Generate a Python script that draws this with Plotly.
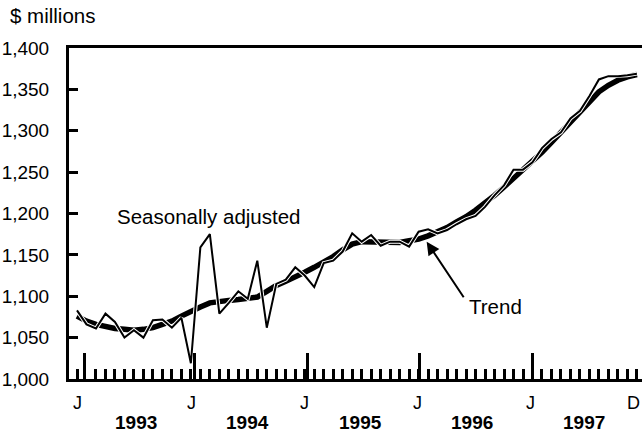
import plotly.graph_objects as go

# month index 0 = Jan 1993 ... 59 = Dec 1997
months = list(range(60))

seasonally_adjusted = [1083, 1066, 1061, 1079, 1069, 1050, 1059, 1050, 1071, 1072,
                       1062, 1074, 1019, 1159, 1175, 1079, 1092, 1106, 1097, 1143,
                       1062, 1115, 1120, 1135, 1125, 1111, 1140, 1143, 1154, 1176,
                       1166, 1174, 1161, 1166, 1166, 1160, 1178, 1181, 1176, 1180,
                       1187, 1193, 1197, 1208, 1222, 1234, 1253, 1253, 1262, 1279,
                       1290, 1298, 1315, 1324, 1342, 1362, 1366, 1366, 1367, 1369]

trend = [1076, 1070, 1066, 1063, 1061, 1060, 1059, 1060, 1062, 1066,
         1070, 1076, 1082, 1087, 1092, 1094, 1095, 1096, 1097, 1099,
         1106, 1113, 1118, 1123, 1129, 1135, 1141, 1148, 1156, 1163,
         1166, 1166, 1165, 1165, 1165, 1167, 1169, 1173, 1178, 1183,
         1190, 1196, 1204, 1212, 1222, 1232, 1242, 1252, 1263, 1274,
         1286, 1298, 1311, 1324, 1336, 1347, 1355, 1361, 1365, 1368]

y_ticks = [1000, 1050, 1100, 1150, 1200, 1250, 1300, 1350, 1400]
y_tick_text = ["1,000", "1,050", "1,100", "1,150", "1,200", "1,250", "1,300", "1,350", "1,400"]
right_ticks = [1050, 1100, 1150, 1200, 1250, 1300, 1350]

year_labels = ["1993", "1994", "1995", "1996", "1997"]
year_pos = [6.2, 18.0, 29.9, 41.6, 53.4]
month_labels = ["J", "J", "J", "J", "J"]
month_label_pos = [0.1, 12.1, 24.0, 35.9, 47.8]
end_label = "D"
major_ticks = [0.74, 12.43, 24.24, 36.04, 47.95]
minor_ticks = [0, 2, 3, 4, 5, 6, 7, 8, 9, 10, 11, 12] + list(range(13, 60))

FONT = "Liberation Sans, Arial, sans-serif"

fig = go.Figure()
fig.add_trace(go.Scatter(x=months, y=trend, mode="lines",
                         line=dict(color="black", width=5.5), hoverinfo="skip"))
fig.add_trace(go.Scatter(x=months, y=seasonally_adjusted, mode="lines",
                         line=dict(color="white", width=4), hoverinfo="skip"))
fig.add_trace(go.Scatter(x=months, y=seasonally_adjusted, mode="lines",
                         line=dict(color="black", width=2), hoverinfo="skip"))

annotations = []
for t, p in zip(year_labels, year_pos):
    annotations.append(dict(x=p, y=-0.13, xref="x", yref="paper", text=t,
                            showarrow=False, xanchor="center", yanchor="middle",
                            font=dict(size=19, family=FONT, color="black", weight="bold")))
for t, p in zip(month_labels, month_label_pos):
    annotations.append(dict(x=p, y=-0.072, xref="x", yref="paper", text=t,
                            showarrow=False, xanchor="center", yanchor="middle",
                            font=dict(size=18, family=FONT, color="black")))
annotations.append(dict(x=1.0, y=-0.072, xref="paper", yref="paper", text=end_label,
                        showarrow=False, xanchor="right", yanchor="middle",
                        font=dict(size=18, family=FONT, color="black")))
annotations.append(dict(x=-0.1065, y=1.097, xref="paper", yref="paper", text="$ millions",
                        showarrow=False, xanchor="left", yanchor="middle",
                        font=dict(size=20.5, family=FONT, color="black")))
annotations.append(dict(x=13.9, y=1195.8, xref="x", yref="y", text="Seasonally adjusted",
                        showarrow=False, xanchor="center", yanchor="middle",
                        font=dict(size=20.5, family=FONT, color="black")))
annotations.append(dict(x=44.05, y=1087.6, xref="x", yref="y", text="Trend",
                        showarrow=False, xanchor="center", yanchor="middle",
                        font=dict(size=20.5, family=FONT, color="black")))
annotations.append(dict(x=36.85, y=1165.9, xref="x", yref="y", text="",
                        showarrow=True, ax=38, ay=57, axref="pixel", ayref="pixel",
                        arrowhead=2, arrowsize=1.3, arrowwidth=2, arrowcolor="black",
                        standoff=0))

fig.update_layout(
    width=642, height=446,
    margin=dict(l=69, r=0, t=48, b=67),
    paper_bgcolor="white", plot_bgcolor="white",
    showlegend=False,
    font=dict(family=FONT, color="black"),
    annotations=annotations,
    xaxis=dict(range=[-0.843, 59.54], showgrid=False, zeroline=False,
               showline=True, linecolor="black", linewidth=3, mirror=True,
               ticks="inside", tickmode="array", tickvals=major_ticks,
               ticklen=26, tickwidth=3, tickcolor="black", showticklabels=False,
               minor=dict(tickmode="array", tickvals=minor_ticks, ticks="inside",
                          ticklen=10, tickwidth=3, tickcolor="black", showgrid=False)),
    yaxis=dict(range=[1000, 1400], showgrid=False, zeroline=False,
               showline=True, linecolor="black", linewidth=3,
               ticks="inside", tickmode="array", tickvals=y_ticks, ticktext=y_tick_text,
               ticklen=9, tickwidth=3, tickcolor="black",
               tickfont=dict(size=19, family=FONT, color="black"),
               ticklabelstandoff=13),
    yaxis2=dict(range=[1000, 1400], overlaying="y", side="right", anchor="x",
                showgrid=False, zeroline=False, showline=False,
                ticks="inside", tickmode="array", tickvals=right_ticks,
                ticklen=7, tickwidth=3, tickcolor="black", showticklabels=False),
)

fig.write_html(
    "out.html",
    config={"displayModeBar": False},
    post_script="document.body.style.margin='0';document.body.style.padding='0';"
                "document.body.style.overflow='hidden';",
)
